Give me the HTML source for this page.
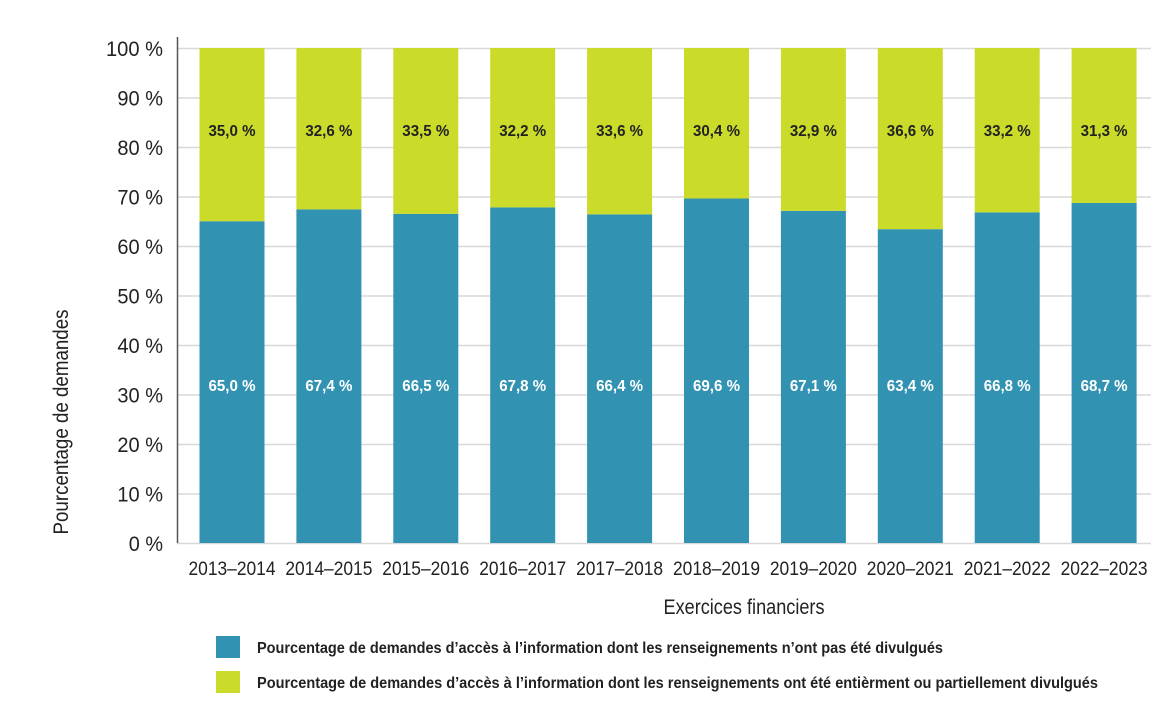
<!DOCTYPE html>
<html><head><meta charset="utf-8"><style>
body{margin:0;background:#fff;width:1171px;height:723px;overflow:hidden}
svg text{font-family:"Liberation Sans Narrow","Liberation Sans",sans-serif}
</style></head><body>
<svg id="chart" width="1171" height="723">
<g id="grid"></g><g id="bars"></g><g id="labels"></g>
<line x1="177.5" y1="37" x2="177.5" y2="543" stroke="#555" stroke-width="1.5"/>
<text x="68" y="422" text-anchor="middle" transform="rotate(-90 68 422)" font-size="21" fill="#222" textLength="225" lengthAdjust="spacingAndGlyphs">Pourcentage de demandes</text>
<text x="744" y="614" text-anchor="middle" font-size="21" fill="#222" textLength="161" lengthAdjust="spacingAndGlyphs">Exercices financiers</text>
<rect x="216" y="636" width="24" height="22" fill="#3193b1"/>
<text x="257" y="653" font-size="16" font-weight="bold" fill="#222" textLength="686" lengthAdjust="spacingAndGlyphs">Pourcentage de demandes d’accès à l’information dont les renseignements n’ont pas été divulgués</text>
<rect x="216" y="671" width="24" height="22" fill="#cadb2a"/>
<text x="257" y="688" font-size="16" font-weight="bold" fill="#222" textLength="841" lengthAdjust="spacingAndGlyphs">Pourcentage de demandes d’accès à l’information dont les renseignements ont été entièrment ou partiellement divulgués</text>
</svg>
<script>
const categories=["2013–2014","2014–2015","2015–2016","2016–2017","2017–2018","2018–2019","2019–2020","2020–2021","2021–2022","2022–2023"];
const notDisclosed=[65.0,67.4,66.5,67.8,66.4,69.6,67.1,63.4,66.8,68.7];
const disclosed=[35.0,32.6,33.5,32.2,33.6,30.4,32.9,36.6,33.2,31.3];
const yTicks=[0,10,20,30,40,50,60,70,80,90,100];
const NS="http://www.w3.org/2000/svg";
const x0=177,x1=1151,y0=543,y100=48;
const y=v=>y0-(y0-y100)*v/100;
const cx=i=>232+96.9*i;
const fmt=v=>v.toFixed(1).replace('.',',')+' %';
function mk(tag,attrs,parent){const e=document.createElementNS(NS,tag);for(const k in attrs)e.setAttribute(k,attrs[k]);document.getElementById(parent).appendChild(e);return e;}
yTicks.forEach(t=>{
 const l=mk('line',{x1:x0,x2:x1,y1:y(t)+0.5,y2:y(t)+0.5,stroke:'#d8d8d8','stroke-width':1.5},'grid');
 
 
 const s=t+' %';
 const tx=mk('text',{x:163,y:y(t)+8,'text-anchor':'end','font-size':21,fill:'#222',textLength:s.length*11.4,lengthAdjust:'spacingAndGlyphs'},'grid');
 tx.textContent=s;
 
 
});
categories.forEach((c,i)=>{
 const bx=cx(i)-32.5;
 const b=mk('rect',{x:bx,y:y(notDisclosed[i]),width:65,height:y0-y(notDisclosed[i]),fill:'#3193b1'},'bars');
 
 
 const t=mk('rect',{x:bx,y:y100,width:65,height:y(notDisclosed[i])-y100,fill:'#cadb2a'},'bars');
 
 
 const l1=mk('text',{x:cx(i),y:391,'text-anchor':'middle','font-size':16,'font-weight':'bold',fill:'#fff',textLength:47,lengthAdjust:'spacingAndGlyphs'},'labels');
 l1.textContent=fmt(notDisclosed[i]);
 
 
 const l2=mk('text',{x:cx(i),y:136,'text-anchor':'middle','font-size':16,'font-weight':'bold',fill:'#222',textLength:47,lengthAdjust:'spacingAndGlyphs'},'labels');
 l2.textContent=fmt(disclosed[i]);
 
 
 const xl=mk('text',{x:cx(i),y:575,'text-anchor':'middle','font-size':19,fill:'#222',textLength:87,lengthAdjust:'spacingAndGlyphs'},'labels');
 xl.textContent=c;
 
 
});
</script>
</body></html>
